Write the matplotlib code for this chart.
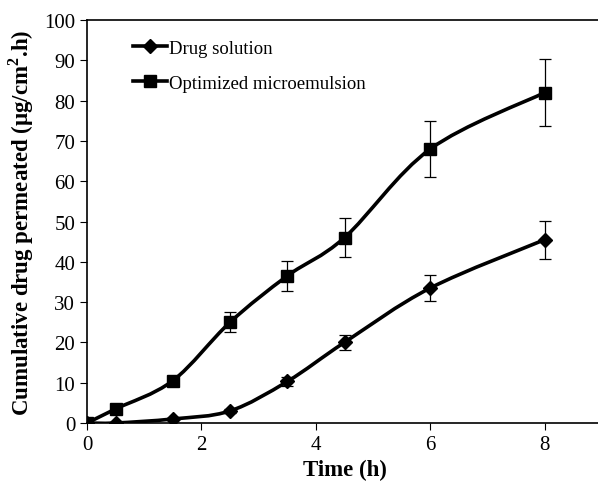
import matplotlib.pyplot as plt
import numpy as np
from matplotlib.path import Path
from matplotlib.patches import PathPatch

plt.rcParams['font.family'] = ['Liberation Serif', 'DejaVu Serif']
plt.rcParams['mathtext.fontset'] = 'custom'
plt.rcParams['mathtext.rm'] = 'Liberation Serif:bold'
plt.rcParams['mathtext.bf'] = 'Liberation Serif:bold'

# time points (h)
time = [0, 0.5, 1.5, 2.5, 3.5, 4.5, 6, 8]
# drug solution
drug = [0, 0, 1, 3, 10.3, 20, 33.5, 45.5]
drug_err = [0, 0, 0.3, 0.5, 1.0, 1.8, 3.3, 4.7]
# optimized microemulsion
micro = [0, 3.5, 10.5, 25, 36.5, 46, 68, 82]
micro_err = [0, 0.3, 0.8, 2.5, 3.7, 4.8, 7.0, 8.2]


def smooth_path(x, y):
    # Excel-like smoothed line: cubic bezier with catmull-rom control points
    x = np.asarray(x, float)
    y = np.asarray(y, float)
    verts = [(x[0], y[0])]
    codes = [Path.MOVETO]
    n = len(x)
    for i in range(n - 1):
        p0 = np.array([x[max(i - 1, 0)], y[max(i - 1, 0)]])
        p1 = np.array([x[i], y[i]])
        p2 = np.array([x[i + 1], y[i + 1]])
        p3 = np.array([x[min(i + 2, n - 1)], y[min(i + 2, n - 1)]])
        c1 = p1 + (p2 - p0) / 6.0
        c2 = p2 - (p3 - p1) / 6.0
        verts += [tuple(c1), tuple(c2), tuple(p2)]
        codes += [Path.CURVE4] * 3
    return Path(verts, codes)


fig = plt.figure(figsize=(5.98, 4.89), dpi=100)
ax = fig.add_axes([87 / 598, 65 / 489, 515 / 598, 403 / 489])

for ys, err, mk, ms, lab in [(drug, drug_err, 'D', 7.5, 'Drug solution'),
                             (micro, micro_err, 's', 8.5, 'Optimized microemulsion')]:
    ax.add_patch(PathPatch(smooth_path(time, ys), fill=False, edgecolor='black', lw=2.6, zorder=2))
    ax.errorbar(time, ys, yerr=err, fmt='none', ecolor='black', elinewidth=0.9, capsize=4, capthick=0.9, zorder=3)
    ax.plot(time, ys, linestyle='none', marker=mk, ms=ms, color='black', zorder=4)
    ax.plot([], [], color='black', lw=2.6, marker=mk, ms=ms, label=lab)

ax.set_xlim(0, 9)
ax.set_ylim(0, 100)
ax.set_xticks([0, 2, 4, 6, 8])
ax.set_yticks(np.arange(0, 101, 10))
ax.tick_params(labelsize=15, direction='out', length=5)
for s in ax.spines.values():
    s.set_linewidth(1.2)

ax.set_xlabel('Time (h)', fontsize=16.5, fontweight='bold', labelpad=4)
ax.set_ylabel(r'Cumulative drug permeated (µg/cm$^{2}$.h)', fontsize=16.5, fontweight='bold', labelpad=6)

ax.legend(loc='upper left', bbox_to_anchor=(0.075, 0.97), frameon=False, fontsize=13.5,
          handlelength=1.8, handletextpad=0.1, labelspacing=0.95, borderaxespad=0)

fig.savefig('out.png', dpi=100)
